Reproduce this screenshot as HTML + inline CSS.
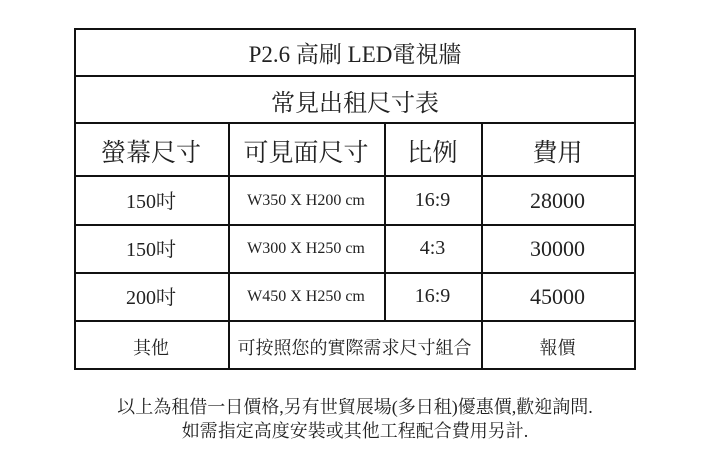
<!DOCTYPE html>
<html><head><meta charset="utf-8"><style>
body{margin:0;width:717px;height:469px;background:#fff;position:relative;overflow:hidden;font-family:"Liberation Serif","Noto Serif CJK TC","Noto Serif CJK SC",serif;color:#222}
.h{position:absolute;height:2px;background:#111}
.v{position:absolute;width:2px;background:#111}
.t{position:absolute;text-align:center;white-space:nowrap}
.n{font-family:"Liberation Serif",serif}
</style></head><body>
<div class="h" style="left:74px;width:562px;top:28px"></div>
<div class="h" style="left:74px;width:562px;top:75px"></div>
<div class="h" style="left:74px;width:562px;top:122px"></div>
<div class="h" style="left:74px;width:562px;top:175px"></div>
<div class="h" style="left:74px;width:562px;top:224px"></div>
<div class="h" style="left:74px;width:562px;top:272px"></div>
<div class="h" style="left:74px;width:562px;top:320px"></div>
<div class="h" style="left:74px;width:562px;top:368px"></div>
<div class="v" style="left:74px;top:28px;height:342px"></div>
<div class="v" style="left:634px;top:28px;height:342px"></div>
<div class="v" style="left:228px;top:122px;height:248px"></div>
<div class="v" style="left:384px;top:122px;height:200px"></div>
<div class="v" style="left:481px;top:122px;height:248px"></div>

<div class="t" style="left:74px;width:562px;top:36px;font-size:23px">P2.6 高刷 LED電視牆</div>
<div class="t" style="left:74px;width:562px;top:83px;font-size:24px">常見出租尺寸表</div>
<div class="t" style="left:74px;width:154px;top:133px;font-size:25px">螢幕尺寸</div>
<div class="t" style="left:228px;width:156px;top:133px;font-size:25px">可見面尺寸</div>
<div class="t" style="left:384px;width:97px;top:133px;font-size:25px">比例</div>
<div class="t" style="left:481px;width:153px;top:133px;font-size:25px">費用</div>

<div class="t" style="left:74px;width:154px;top:185px;font-size:20px">150吋</div>
<div class="t n" style="left:228px;width:156px;top:192px;font-size:16px">W350 X H200 cm</div>
<div class="t n" style="left:384px;width:97px;top:189px;font-size:20px">16:9</div>
<div class="t n" style="left:481px;width:153px;top:188px;font-size:22px">28000</div>

<div class="t" style="left:74px;width:154px;top:233px;font-size:20px">150吋</div>
<div class="t n" style="left:228px;width:156px;top:240px;font-size:16px">W300 X H250 cm</div>
<div class="t n" style="left:384px;width:97px;top:237px;font-size:20px">4:3</div>
<div class="t n" style="left:481px;width:153px;top:236px;font-size:22px">30000</div>

<div class="t" style="left:74px;width:154px;top:281px;font-size:20px">200吋</div>
<div class="t n" style="left:228px;width:156px;top:288px;font-size:16px">W450 X H250 cm</div>
<div class="t n" style="left:384px;width:97px;top:285px;font-size:20px">16:9</div>
<div class="t n" style="left:481px;width:153px;top:284px;font-size:22px">45000</div>

<div class="t" style="left:74px;width:154px;top:334px;font-size:18px">其他</div>
<div class="t" style="left:228px;width:253px;top:334px;font-size:18px">可按照您的實際需求尺寸組合</div>
<div class="t" style="left:481px;width:153px;top:334px;font-size:18px">報價</div>

<div class="t" style="left:0;width:710px;top:393px;font-size:18px">以上為租借一日價格,另有世貿展場(多日租)優惠價,歡迎詢問.</div>
<div class="t" style="left:0;width:710px;top:417px;font-size:18px">如需指定高度安裝或其他工程配合費用另計.</div>
</body></html>
